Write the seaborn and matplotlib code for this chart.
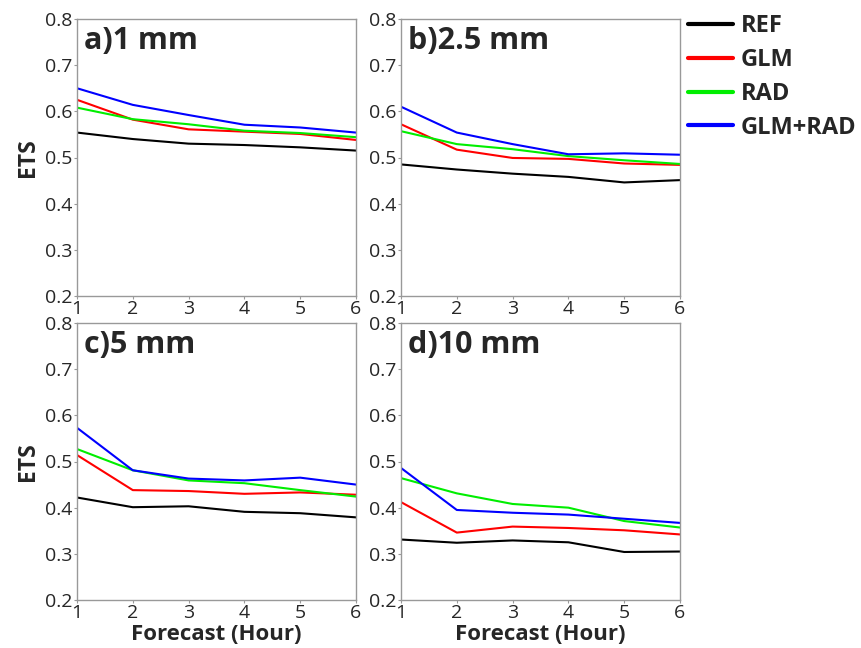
import numpy as np
import pandas as pd
import matplotlib
matplotlib.use("Agg")
import matplotlib.pyplot as plt
import seaborn as sns
from matplotlib.lines import Line2D

hours = [1, 2, 3, 4, 5, 6]
experiments = ["REF", "GLM", "RAD", "GLM+RAD"]
colors = ["#000000", "#ff0000", "#00ee00", "#0000ff"]
panel_titles = ["a)1 mm", "b)2.5 mm", "c)5 mm", "d)10 mm"]

# ETS by threshold
ets_1mm_ref = [0.554, 0.540, 0.530, 0.527, 0.522, 0.515]
ets_1mm_glm = [0.625, 0.582, 0.561, 0.556, 0.551, 0.538]
ets_1mm_rad = [0.608, 0.583, 0.572, 0.558, 0.553, 0.544]
ets_1mm_both = [0.650, 0.614, 0.592, 0.571, 0.565, 0.554]

ets_25mm_ref = [0.485, 0.474, 0.465, 0.458, 0.446, 0.451]
ets_25mm_glm = [0.572, 0.517, 0.499, 0.497, 0.487, 0.484]
ets_25mm_rad = [0.557, 0.529, 0.518, 0.503, 0.494, 0.486]
ets_25mm_both = [0.610, 0.554, 0.529, 0.507, 0.509, 0.506]

ets_5mm_ref = [0.422, 0.401, 0.403, 0.391, 0.388, 0.379]
ets_5mm_glm = [0.514, 0.438, 0.436, 0.430, 0.433, 0.428]
ets_5mm_rad = [0.527, 0.481, 0.459, 0.453, 0.438, 0.424]
ets_5mm_both = [0.573, 0.481, 0.463, 0.459, 0.465, 0.450]

ets_10mm_ref = [0.331, 0.324, 0.329, 0.325, 0.304, 0.305]
ets_10mm_glm = [0.412, 0.346, 0.359, 0.356, 0.351, 0.342]
ets_10mm_rad = [0.464, 0.431, 0.408, 0.400, 0.371, 0.357]
ets_10mm_both = [0.486, 0.395, 0.389, 0.385, 0.376, 0.367]

panels = [
    [ets_1mm_ref, ets_1mm_glm, ets_1mm_rad, ets_1mm_both],
    [ets_25mm_ref, ets_25mm_glm, ets_25mm_rad, ets_25mm_both],
    [ets_5mm_ref, ets_5mm_glm, ets_5mm_rad, ets_5mm_both],
    [ets_10mm_ref, ets_10mm_glm, ets_10mm_rad, ets_10mm_both],
]

sns.set_theme(style="white")
plt.rcParams["font.family"] = ["Open Sans", "DejaVu Sans"]

fig = plt.figure(figsize=(8.62, 6.48), dpi=100)
W, H = 862.0, 648.0
boxes = [(77, 19), (401, 19), (77, 323), (401, 323)]
aw, ah = 279, 277

palette = dict(zip(experiments, colors))

for i, (series, title) in enumerate(zip(panels, panel_titles)):
    x0, y0 = boxes[i]
    ax = fig.add_axes([x0 / W, 1 - (y0 + ah) / H, aw / W, ah / H])
    rows = []
    for name, vals in zip(experiments, series):
        for h, v in zip(hours, vals):
            rows.append({"Hour": h, "ETS": v, "Experiment": name})
    df = pd.DataFrame(rows)
    sns.lineplot(data=df, x="Hour", y="ETS", hue="Experiment", hue_order=experiments,
                 palette=palette, linewidth=1.5, legend=False, ax=ax)
    ax.set_xlim(1, 6)
    ax.set_ylim(0.2, 0.8)
    ax.set_xticks(hours)
    ax.set_yticks([0.2, 0.3, 0.4, 0.5, 0.6, 0.7, 0.8])
    ax.set_yticklabels(["0.2", "0.3", "0.4", "0.5", "0.6", "0.7", "0.8"])
    ax.tick_params(axis="both", labelsize=14, length=2, width=0.8, color="#999999",
                   pad=1, direction="out", left=True, bottom=True)
    for sp in ax.spines.values():
        sp.set_color("#999999")
        sp.set_linewidth(1.0)
    ax.text(0.025, 0.975, title, transform=ax.transAxes, ha="left", va="top",
            fontsize=22, fontweight="bold")
    if i % 2 == 0:
        ax.set_ylabel("ETS", fontsize=16.5, fontweight="bold", labelpad=4)
    else:
        ax.set_ylabel("")
    if i >= 2:
        ax.set_xlabel("Forecast (Hour)", fontsize=16, fontweight="bold", labelpad=1.5)
    else:
        ax.set_xlabel("")

handles = [Line2D([0], [0], color=c, lw=3) for c in colors]
fig.legend(handles, experiments, loc="upper left", bbox_to_anchor=(688 / W, 1 - 14 / H),
           frameon=False, borderpad=0, borderaxespad=0,
           handlelength=1.9, handletextpad=0.35, labelspacing=0.42,
           prop={"size": 17, "weight": "bold"})

fig.savefig("out.png", dpi=100)
